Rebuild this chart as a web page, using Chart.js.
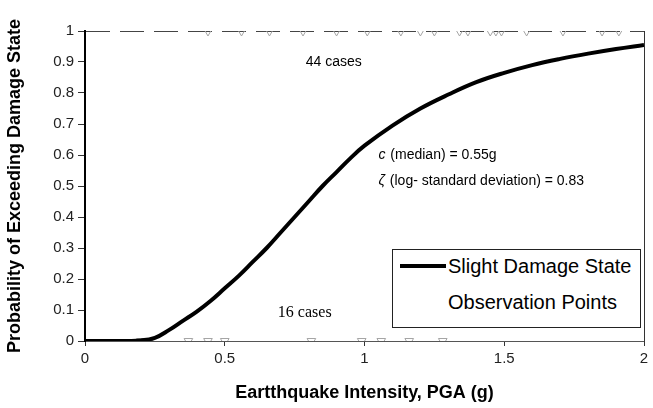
<!DOCTYPE html>
<html>
<head>
<meta charset="utf-8">
<script src="https://cdn.jsdelivr.net/npm/chart.js@4/dist/chart.umd.min.js"></script>
<style>
  html, body { margin: 0; padding: 0; background: #fff; }
  #wrap { position: relative; width: 653px; height: 408px; }
  #legend {
    position: absolute; left: 392px; top: 249px; width: 247px; height: 77px;
    border: 1px solid #222; background: #fff;
    font-family: "Liberation Sans", Arial, sans-serif; font-size: 20px; color: #000;
  }
  #legend .row { position: absolute; left: 0; height: 24px; line-height: 24px; white-space: nowrap; }
  #legend .swatch { display: inline-block; width: 46px; height: 4px; vertical-align: middle; margin: 0 2px 3px 7px; }
</style>
</head>
<body>
<div id="wrap">
  <canvas id="fragility" width="653" height="408"></canvas>
  <div id="legend"></div>
</div>
<script>
// Fragility curve, slight damage state
const pgaValues = [0, 0.1, 0.2, 0.25, 0.3, 0.35, 0.4, 0.45, 0.5, 0.55, 0.6, 0.65, 0.7, 0.75, 0.8,
                   0.85, 0.9, 0.95, 1.0, 1.1, 1.2, 1.3, 1.4, 1.5, 1.6, 1.7, 1.8, 1.9, 2.0];
const exceedProb = [0, 0, 0.002, 0.01, 0.035, 0.065, 0.095, 0.13, 0.17, 0.21, 0.255, 0.30, 0.35, 0.40, 0.45,
                    0.50, 0.545, 0.59, 0.63, 0.695, 0.75, 0.795, 0.835, 0.865, 0.89, 0.91, 0.927, 0.942, 0.955];

// Observed buildings: damaged (1) and undamaged (0)
const damagedPga = [0.44, 0.56, 0.66, 0.78, 0.90, 1.01, 1.13, 1.20, 1.25, 1.34, 1.37, 1.45, 1.47, 1.49, 1.58, 1.71, 1.85, 1.91];
const undamagedPga = [0.20, 0.23, 0.37, 0.44, 0.50, 0.81, 0.99, 1.06, 1.16, 1.28];

const yTicks = [0, 0.1, 0.2, 0.3, 0.4, 0.5, 0.6, 0.7, 0.8, 0.9, 1];

const curvePoints = pgaValues.map((x, i) => ({ x: x, y: exceedProb[i] }));
const obsPoints = damagedPga.map(x => ({ x: x, y: 1 }))
  .concat(undamagedPga.map(x => ({ x: x, y: 0 })));

const sans = '"Liberation Sans", Arial, sans-serif';

// texte dans la zone du graphique, placé en coordonnées de données
const notesPlugin = {
  id: 'notes',
  afterDatasetsDraw(chart) {
    const ctx = chart.ctx;
    const xs = chart.scales.x, ys = chart.scales.y;
    ctx.save();
    ctx.fillStyle = '#000';
    ctx.textBaseline = 'middle';
    ctx.textAlign = 'left';

    ctx.font = '14px ' + sans;
    ctx.fillText('44 cases', xs.getPixelForValue(0.79), ys.getPixelForValue(0.9));
    ctx.font = '16px "Liberation Serif", "Times New Roman", serif';
    ctx.fillText('16 cases', xs.getPixelForValue(0.69), ys.getPixelForValue(0.09));

    const px = xs.getPixelForValue(1.05);
    let py = ys.getPixelForValue(0.6);
    ctx.font = 'italic 14px ' + sans;
    ctx.fillText('c', px, py);
    let w = ctx.measureText('c').width;
    ctx.font = '14px ' + sans;
    ctx.fillText(' (median) = 0.55g', px + w + 1, py);

    py = ys.getPixelForValue(0.515);
    ctx.font = 'italic 14px ' + sans;
    ctx.fillText('ζ', px, py);
    w = ctx.measureText('ζ').width;
    ctx.font = '14px ' + sans;
    ctx.fillText(' (log- standard deviation) = 0.83', px + w + 1, py);
    ctx.restore();
  }
};

const chart = new Chart(document.getElementById('fragility'), {
  type: 'scatter',
  data: {
    datasets: [
      {
        label: 'Slight Damage State',
        data: curvePoints,
        showLine: true,
        borderColor: '#000',
        backgroundColor: '#000',
        borderWidth: 4,
        pointRadius: 0,
        tension: 0.4
      },
      {
        label: 'Observation Points',
        data: obsPoints,
        showLine: false,
        pointStyle: 'triangle',
        rotation: 180,
        pointRadius: 5,
        borderWidth: 1,
        borderColor: '#a5a5a5',
        backgroundColor: 'rgba(0,0,0,0)'
      }
    ]
  },
  options: {
    responsive: false,
    animation: false,
    layout: { padding: { top: 31, right: 9, left: 0, bottom: 0 } },
    plugins: {
      legend: { display: false },
      tooltip: { enabled: false }
    },
    scales: {
      x: {
        type: 'linear',
        min: 0, max: 2,
        afterFit: s => { s.height = 67; },
        border: { display: true, color: '#555', width: 1 },
        grid: {
          drawOnChartArea: false,
          tickColor: '#333',
          tickLength: 5
        },
        ticks: {
          stepSize: 0.5,
          color: '#222',
          padding: 4,
          font: { family: sans, size: 15 },
          callback: v => String(v)
        },
        title: {
          display: true,
          text: 'Eartthquake Intensity, PGA (g)',
          color: '#000',
          font: { family: sans, size: 18, weight: 'bold' },
          padding: { top: 4, bottom: 4 }
        }
      },
      y: {
        type: 'linear',
        min: 0, max: 1,
        afterFit: s => { s.width = 85; },
        afterBuildTicks: s => { s.ticks = yTicks.map(v => ({ value: v })); },
        border: { display: true, color: '#000', width: 2, dash: [24, 10] },
        grid: {
          color: c => (c.tick && c.tick.value === 1) ? '#444' : 'rgba(0,0,0,0)',
          tickColor: '#333',
          tickLength: 7
        },
        ticks: {
          color: '#222',
          padding: 4,
          font: { family: sans, size: 15 },
          callback: v => String(v)
        },
        title: {
          display: true,
          text: 'Probability of Exceeding Damage State',
          color: '#000',
          font: { family: sans, size: 18, weight: 'bold' },
          padding: { top: 4, bottom: 4 }
        }
      },
      // cadre à droite du graphique
      yRight: {
        type: 'linear',
        position: 'right',
        min: 0, max: 1,
        afterFit: s => { s.width = 0; },
        border: { display: true, color: '#333', width: 1 },
        grid: { display: true, drawOnChartArea: false, drawTicks: false },
        ticks: { display: false }
      }
    }
  },
  plugins: [notesPlugin]
});

// Légende dans un cadre, construite à partir des séries
const legendBox = document.getElementById('legend');
chart.data.datasets.forEach((ds, i) => {
  const row = document.createElement('div');
  row.className = 'row';
  row.style.top = (4 + i * 36) + 'px';
  const sw = document.createElement('span');
  sw.className = 'swatch';
  sw.style.background = ds.showLine ? ds.borderColor : 'transparent';
  row.appendChild(sw);
  row.appendChild(document.createTextNode(ds.label));
  legendBox.appendChild(row);
});
</script>
</body>
</html>
